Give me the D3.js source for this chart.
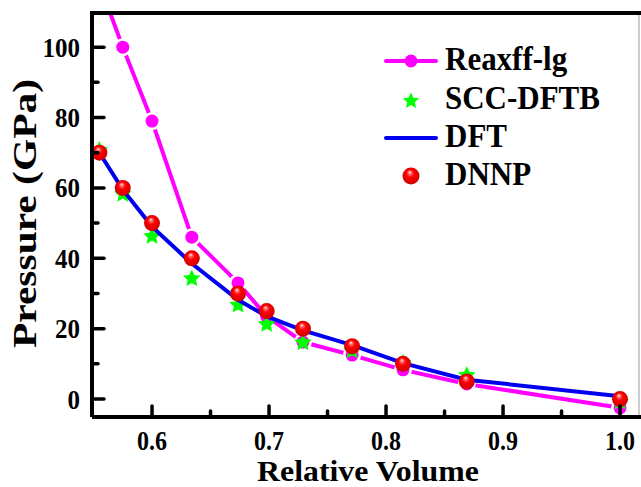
<!DOCTYPE html>
<html>
<head>
<meta charset="utf-8">
<script src="https://cdn.jsdelivr.net/npm/d3@7"></script>
<style>
  html, body { margin: 0; padding: 0; background: #fff; }
  svg { display: block; font-family: "Liberation Serif", "Times New Roman", serif; font-weight: bold; }
</style>
</head>
<body>
<svg id="chart" width="641" height="487"></svg>
<script>
// ---------------------------------------------------------------------------
// Data
// ---------------------------------------------------------------------------
const volume = [0.555, 0.575, 0.6, 0.634, 0.6735, 0.698, 0.729, 0.771, 0.8145, 0.869, 1.0];
const reaxff = [118, 100, 79, 46, 33, 23.5, 16.2, 12.5, 8.3, 4.3, -2.5];
const dftb   = [71, 58.5, 46.5, 34.5, 27, 21.5, 16.3, 14, 10.5, 7, -0.5];
const dft    = [70, 59.5, 49, 38.5, 28.2, 23.5, 19.5, 15.3, 10.2, 5.5, 0.8];
const dnnp   = [70, 60, 50, 40, 30, 25, 20, 15, 10, 5, 0];

const xTicks = [0.6, 0.7, 0.8, 0.9, 1.0];
const xMinor = [0.65, 0.75, 0.85, 0.95];
const yTicks = [0, 20, 40, 60, 80, 100];
const yMinor = [10, 30, 50, 70, 90];

const seriesNames = ["Reaxff-lg", "SCC-DFTB", "DFT", "DNNP"];

// ---------------------------------------------------------------------------
// Layout
// ---------------------------------------------------------------------------
const L = 92, R = 639, T = 13, B = 417;
const MAGENTA = "#ff00ff", GREEN = "#00ff00", BLUE = "#0000ee";

const x = d3.scaleLinear().domain([0.5487, 1.0162]).range([L, R]);
const y = d3.scaleLinear().domain([-5.1, 109.7]).range([B, T]);

const svg = d3.select("#chart");

// Shiny red ball gradient for DNNP markers
const defs = svg.append("defs");
const grad = defs.append("radialGradient")
  .attr("id", "ball")
  .attr("cx", "50%").attr("cy", "50%").attr("r", "55%")
  .attr("fx", "42%").attr("fy", "26%");
grad.append("stop").attr("offset", "0%").attr("stop-color", "#ffffff");
grad.append("stop").attr("offset", "16%").attr("stop-color", "#ff7070");
grad.append("stop").attr("offset", "42%").attr("stop-color", "#ff0000");
grad.append("stop").attr("offset", "100%").attr("stop-color", "#c80000");

defs.append("clipPath").attr("id", "plot-clip")
  .append("rect").attr("x", L).attr("y", T).attr("width", R - L).attr("height", B - T);

// Chunky five-pointed star like Origin's (inner radius ~0.48 of outer)
const fatStar = {
  draw(ctx, size) {
    const r = Math.sqrt(size) / 2, ri = r * 0.48;
    for (let i = 0; i < 10; i++) {
      const a = -Math.PI / 2 + i * Math.PI / 5, rr = i % 2 ? ri : r;
      const px = rr * Math.cos(a), py = rr * Math.sin(a);
      i ? ctx.lineTo(px, py) : ctx.moveTo(px, py);
    }
    ctx.closePath();
  }
};

const pts = (ys) => volume.map((v, i) => [v, ys[i]]);
const line = d3.line().x(d => x(d[0])).y(d => y(d[1]));

const plot = svg.append("g").attr("clip-path", "url(#plot-clip)");

// Reaxff-lg: magenta line + circles (with a small white gap round each symbol)
plot.append("path")
  .attr("d", line(pts(reaxff)))
  .attr("fill", "none").attr("stroke", MAGENTA).attr("stroke-width", 4);
plot.selectAll(".gap")
  .data(pts(reaxff))
  .join("circle")
  .attr("class", "gap")
  .attr("cx", d => x(d[0])).attr("cy", d => y(d[1]))
  .attr("r", 9).attr("fill", "#fff");
plot.selectAll(".reax")
  .data(pts(reaxff))
  .join("circle")
  .attr("class", "reax")
  .attr("cx", d => x(d[0])).attr("cy", d => y(d[1]))
  .attr("r", 6.5).attr("fill", MAGENTA);

// SCC-DFTB: green stars
const star = d3.symbol().type(fatStar).size(340);
plot.selectAll(".star")
  .data(pts(dftb))
  .join("path")
  .attr("class", "star")
  .attr("transform", d => `translate(${x(d[0])},${y(d[1]) + 1})`)
  .attr("d", star).attr("fill", GREEN);

// DFT: blue line
plot.append("path")
  .attr("d", line(pts(dft)))
  .attr("fill", "none").attr("stroke", BLUE).attr("stroke-width", 4);

// DNNP: red balls
plot.selectAll(".ball")
  .data(pts(dnnp))
  .join("circle")
  .attr("class", "ball")
  .attr("cx", d => x(d[0])).attr("cy", d => y(d[1]))
  .attr("r", 8).attr("fill", "url(#ball)");

// ---------------------------------------------------------------------------
// Frame, ticks and labels
// ---------------------------------------------------------------------------
svg.append("line").attr("x1", R).attr("x2", R).attr("y1", T).attr("y2", B)
  .attr("stroke", "#999").attr("stroke-width", 1);
svg.append("path")
  .attr("d", `M${L},${B}V${T}H641M${L},${B}H641`)
  .attr("fill", "none").attr("stroke", "#000").attr("stroke-width", 4);

const tickG = svg.append("g").attr("stroke", "#000").attr("stroke-width", 3.5)
  .attr("stroke-linecap", "round");
xTicks.forEach(v => tickG.append("line")
  .attr("x1", x(v)).attr("x2", x(v)).attr("y1", B).attr("y2", B - 11));
xMinor.forEach(v => tickG.append("line")
  .attr("x1", x(v)).attr("x2", x(v)).attr("y1", B).attr("y2", B - 6));
yTicks.forEach(v => tickG.append("line")
  .attr("x1", L).attr("x2", L + 12).attr("y1", y(v)).attr("y2", y(v)));
yMinor.forEach(v => tickG.append("line")
  .attr("x1", L).attr("x2", L + 6).attr("y1", y(v)).attr("y2", y(v)));

// Tick labels are a little taller than wide in the reference
svg.append("g").selectAll("text")
  .data(xTicks)
  .join("text")
  .attr("transform", d => `translate(${x(d)},450) scale(1,1.1)`)
  .attr("text-anchor", "middle").attr("font-size", 24)
  .text(d => d3.format(".1f")(d));

svg.append("g").selectAll("text")
  .data(yTicks)
  .join("text")
  .attr("transform", d => `translate(80,${y(d) + 9.5}) scale(1,1.12)`)
  .attr("text-anchor", "end").attr("font-size", 25)
  .text(d => d);

svg.append("text")
  .attr("x", 368).attr("y", 481)
  .attr("text-anchor", "middle").attr("font-size", 29)
  .attr("textLength", 222).attr("lengthAdjust", "spacingAndGlyphs")
  .text("Relative Volume");

svg.append("text")
  .attr("transform", "translate(36,213.5) rotate(-90)")
  .attr("text-anchor", "middle").attr("font-size", 33)
  .attr("textLength", 269).attr("lengthAdjust", "spacingAndGlyphs")
  .text("Pressure (GPa)");

// ---------------------------------------------------------------------------
// Legend
// ---------------------------------------------------------------------------
const legY = [61, 100, 138, 176];
const lg = svg.append("g");
lg.append("line").attr("x1", 386).attr("x2", 436).attr("y1", legY[0]).attr("y2", legY[0])
  .attr("stroke", MAGENTA).attr("stroke-width", 4).attr("stroke-linecap", "round");
lg.append("circle").attr("cx", 411).attr("cy", legY[0]).attr("r", 6.5).attr("fill", MAGENTA);
lg.append("path").attr("transform", `translate(411,${legY[1] + 1})`)
  .attr("d", d3.symbol().type(fatStar).size(290)).attr("fill", GREEN);
lg.append("line").attr("x1", 386).attr("x2", 436).attr("y1", legY[2]).attr("y2", legY[2])
  .attr("stroke", BLUE).attr("stroke-width", 4).attr("stroke-linecap", "round");
lg.append("circle").attr("cx", 411).attr("cy", legY[3]).attr("r", 8.5).attr("fill", "url(#ball)");

lg.selectAll("text")
  .data(seriesNames)
  .join("text")
  .attr("transform", (d, i) => `translate(445,${legY[i] + 9}) scale(1,1.08)`)
  .attr("font-size", 31)
  .text(d => d);
</script>
</body>
</html>
